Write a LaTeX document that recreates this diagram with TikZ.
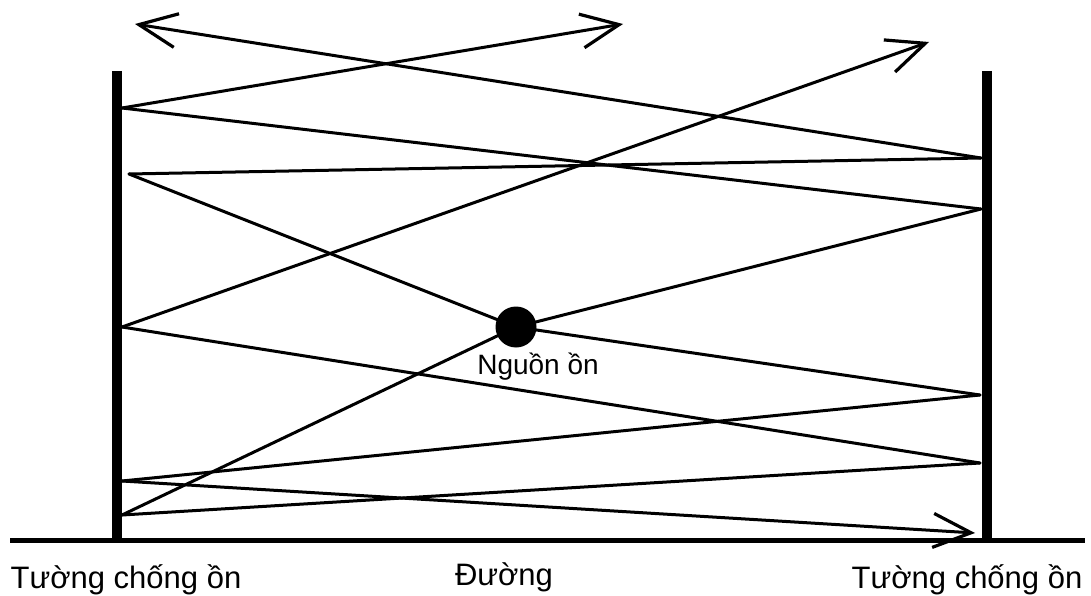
\documentclass[tikz,border=0pt]{standalone}
\usepackage{fontspec}
\setmainfont{Liberation Sans}
\usetikzlibrary{arrows.meta}
\begin{document}
\begin{tikzpicture}[x=1pt,y=-1pt,
  ray/.style={line width=3pt, line cap=round, line join=round},
  rayarrow/.style={ray, -{Straight Barb[length=38pt,width=34pt,line width=3.2pt]}},
  wall/.style={line width=10.5pt},
  ground/.style={line width=5pt},
  bigtext/.style={font=\fontsize{31}{36}\selectfont, anchor=base, inner sep=0pt},
  srctext/.style={font=\fontsize{28}{32}\selectfont, anchor=base, inner sep=0pt},
  source/.style={circle, fill=black, minimum size=41pt, inner sep=0pt}
]
\useasboundingbox (0,0) rectangle (1091,596);

% walls and road
\coordinate (LWt) at (117,71);
\coordinate (LWb) at (117,540);
\coordinate (RWt) at (987,71);
\coordinate (RWb) at (987,540);
\coordinate (G1) at (10,540);
\coordinate (G2) at (1085,540);
\draw[wall] (LWt) -- (LWb);
\draw[wall] (RWt) -- (RWb);

% reflection points
\coordinate (L1) at (122,108);
\coordinate (L2) at (129,174);
\coordinate (L3) at (122,327);
\coordinate (L4) at (122,481);
\coordinate (L5) at (122,515);
\coordinate (R1) at (981,158);
\coordinate (R2) at (981,209);
\coordinate (R3) at (980,395);
\coordinate (R4) at (980,463);
% arrow tips
\coordinate (A1) at (135,24);
\coordinate (A2) at (623,24);
\coordinate (A3) at (929,42);
\coordinate (A4) at (975,533);

\coordinate (Sc) at (516,327);

% rays
\draw[rayarrow] (R1) -- (A1);
\draw[rayarrow] (L1) -- (A2);
\draw[ray] (L1) -- (R2);
\draw[ray] (L2) -- (R1);
\draw[ray] (L2) -- (Sc);
\draw[ray] (Sc) -- (R2);
\draw[rayarrow] (L3) -- (A3);
\draw[ray] (L3) -- (R4);
\draw[ray] (Sc) -- (R3);
\draw[ray] (R3) -- (L4);
\draw[rayarrow] (L4) -- (A4);
\draw[ray] (L5) -- (Sc);
\draw[ray] (L5) -- (R4);

\draw[ground] (G1) -- (G2);

\node[source] (S) at (Sc) {};
\node[srctext] (Slabel) at (538,374) {Nguồn ồn};

\node[bigtext] (wl) at (126,588) {Tường chống ồn};
\node[bigtext] (road) at (504,585) {Đường};
\node[bigtext] (wr) at (967,588) {Tường chống ồn};
\end{tikzpicture}
\end{document}
